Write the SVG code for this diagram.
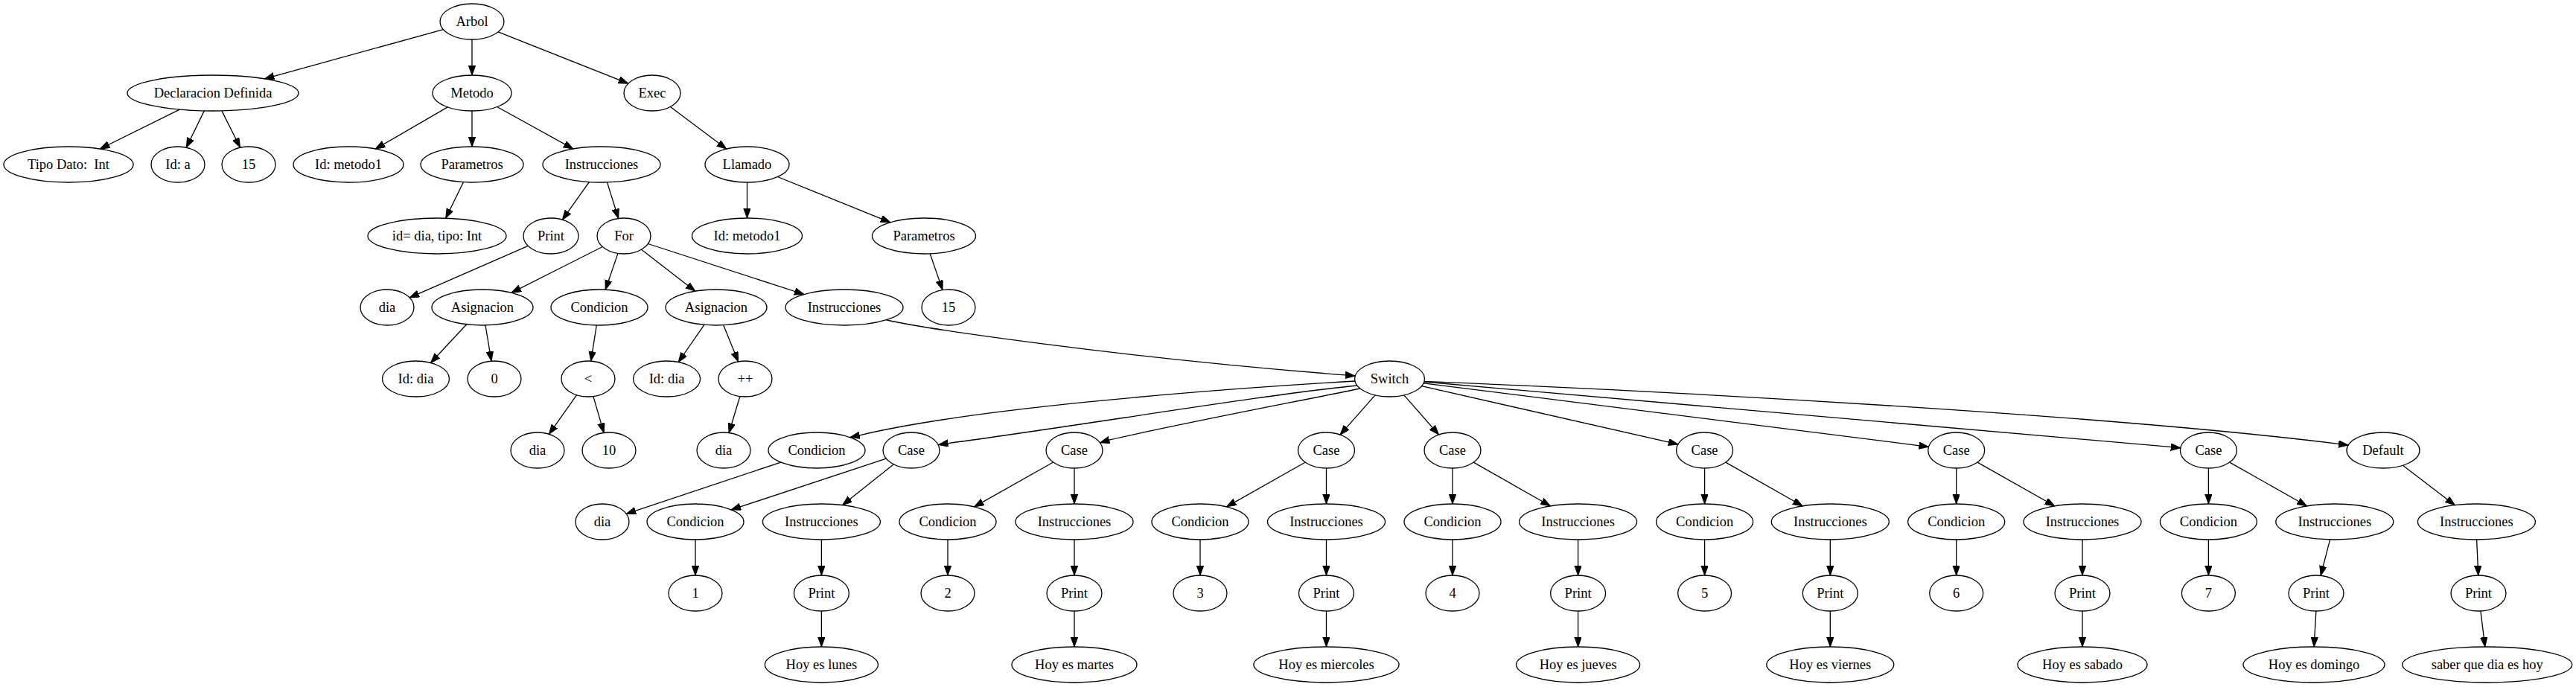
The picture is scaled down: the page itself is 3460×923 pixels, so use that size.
<svg xmlns="http://www.w3.org/2000/svg" width="3460" height="923" viewBox="0 0 3460 923">
<style>
.n ellipse{fill:none;stroke:#000;stroke-width:1.3}
.n text{font-family:"Liberation Serif","Times New Roman",serif;font-size:18.5px;text-anchor:middle;fill:#000}
#edges line,#edges path{stroke:#000;stroke-width:1.3;fill:none;marker-end:url(#arr)}
</style>
<defs>
<marker id="arr" markerUnits="userSpaceOnUse" markerWidth="14" markerHeight="10" viewBox="0 0 14 10" refX="13" refY="4.7" orient="auto"><path d="M0,0 L13,4.7 L0,9.4 z" fill="#000" stroke="#000" stroke-width="1"/></marker>
</defs>
<rect width="3460" height="923" fill="#fff"/>
<g id="edges">
<line x1="595.4" y1="39.6" x2="355.4" y2="105.9"/>
<line x1="634" y1="53" x2="634" y2="101"/>
<line x1="669.1" y1="42.9" x2="843.8" y2="112.2"/>
<line x1="241.3" y1="147.1" x2="134.4" y2="200"/>
<line x1="274.3" y1="148.9" x2="250.2" y2="198.2"/>
<line x1="297.9" y1="148.9" x2="322.6" y2="198.2"/>
<line x1="601.3" y1="143.9" x2="504.2" y2="200.1"/>
<line x1="634" y1="149" x2="634" y2="197"/>
<line x1="667.6" y1="143.5" x2="769.9" y2="200"/>
<line x1="900.4" y1="143.4" x2="975.7" y2="200.1"/>
<line x1="622.4" y1="244.7" x2="598.7" y2="293.2"/>
<line x1="791.4" y1="244.5" x2="755.4" y2="295.2"/>
<line x1="815.5" y1="244.9" x2="830.7" y2="293.5"/>
<line x1="1003.5" y1="245" x2="1003.5" y2="293"/>
<line x1="1044.4" y1="237.5" x2="1195.9" y2="298.8"/>
<line x1="709.3" y1="330.4" x2="550.1" y2="399.9"/>
<line x1="809.3" y1="331.5" x2="686.9" y2="393.3"/>
<line x1="830" y1="340.4" x2="813.2" y2="389.2"/>
<line x1="861.5" y1="335.2" x2="933.8" y2="391.2"/>
<line x1="870.4" y1="327.5" x2="1080" y2="395.5"/>
<line x1="1249.2" y1="340.8" x2="1266" y2="389.6"/>
<line x1="626.7" y1="435.8" x2="578.5" y2="487.5"/>
<line x1="652" y1="437" x2="660" y2="485.1"/>
<line x1="801.3" y1="437" x2="793.7" y2="485.1"/>
<line x1="945.9" y1="436.3" x2="911.2" y2="486.5"/>
<line x1="971.7" y1="436.8" x2="991.6" y2="485.8"/>
<path d="M1191,430 C1240,441 1500,480 1807,503.9 L1820,505"/>
<line x1="774.6" y1="530.7" x2="737.4" y2="583.3"/>
<line x1="796.9" y1="532.6" x2="811.1" y2="581.4"/>
<line x1="993.9" y1="532.5" x2="979.1" y2="581.5"/>
<path d="M1820,512 C1600,525 1300,550 1154.7,584.8 L1142,587.5"/>
<path d="M1823,518 C1700,530 1450,572 1273.4,595.6 L1260.5,597.5"/>
<path d="M1827,522 C1750,538 1600,566 1490,591.1 L1477.5,594.8"/>
<line x1="1847.1" y1="530.9" x2="1800" y2="584.1"/>
<line x1="1885.8" y1="530.9" x2="1932.5" y2="584"/>
<line x1="1909.5" y1="518.7" x2="2253.8" y2="596.9"/>
<line x1="1912.1" y1="514.8" x2="2590.4" y2="600.3"/>
<line x1="1912.8" y1="513" x2="2928.8" y2="601.7"/>
<path d="M1913,512.4 C2300,528 2850,560 3141,596.4 L3154,598"/>
<line x1="1048.8" y1="621.1" x2="841.2" y2="690.3"/>
<line x1="1190.3" y1="616.1" x2="982.1" y2="684.9"/>
<line x1="1200.4" y1="623.8" x2="1131.6" y2="678.6"/>
<line x1="1414.7" y1="621" x2="1308.6" y2="680.9"/>
<line x1="1443" y1="629" x2="1443" y2="677"/>
<line x1="1753.3" y1="621" x2="1647.5" y2="680.9"/>
<line x1="1781.5" y1="629" x2="1781.5" y2="677"/>
<line x1="1951" y1="629" x2="1951" y2="677"/>
<line x1="1979.2" y1="621.1" x2="2082.4" y2="679.8"/>
<line x1="2289.6" y1="629" x2="2289.6" y2="677"/>
<line x1="2317.8" y1="621.1" x2="2421.1" y2="679.8"/>
<line x1="2627.7" y1="629" x2="2627.7" y2="677"/>
<line x1="2656" y1="621.1" x2="2759.7" y2="679.8"/>
<line x1="2966.4" y1="629" x2="2966.4" y2="677"/>
<line x1="2994.8" y1="621.1" x2="3098.4" y2="679.8"/>
<line x1="3227.4" y1="625.2" x2="3297.3" y2="678.7"/>
<line x1="934" y1="725" x2="934" y2="773"/>
<line x1="1103.4" y1="725" x2="1103.4" y2="773"/>
<line x1="1273" y1="725" x2="1273" y2="773"/>
<line x1="1443" y1="725" x2="1443" y2="773"/>
<line x1="1612" y1="725" x2="1612" y2="773"/>
<line x1="1781.5" y1="725" x2="1781.5" y2="773"/>
<line x1="1951" y1="725" x2="1951" y2="773"/>
<line x1="2119.6" y1="725" x2="2119.6" y2="773"/>
<line x1="2289.6" y1="725" x2="2289.6" y2="773"/>
<line x1="2458.3" y1="725" x2="2458.3" y2="773"/>
<line x1="2627.7" y1="725" x2="2627.7" y2="773"/>
<line x1="2797" y1="725" x2="2797" y2="773"/>
<line x1="2966.4" y1="725" x2="2966.4" y2="773"/>
<line x1="3129.6" y1="724.9" x2="3117.1" y2="773.3"/>
<line x1="3326.6" y1="725" x2="3328.8" y2="773"/>
<line x1="1103.4" y1="821" x2="1103.4" y2="869"/>
<line x1="1443" y1="821" x2="1443" y2="869"/>
<line x1="1781.5" y1="821" x2="1781.5" y2="869"/>
<line x1="2119.6" y1="821" x2="2119.6" y2="869"/>
<line x1="2458.3" y1="821" x2="2458.3" y2="869"/>
<line x1="2797" y1="821" x2="2797" y2="869"/>
<line x1="3110.9" y1="821" x2="3108.1" y2="869"/>
<line x1="3331.9" y1="820.9" x2="3337.8" y2="869"/>
</g>
<g id="arbol" class="n"><ellipse cx="634" cy="29" rx="43" ry="24"/><text x="634" y="35">Arbol</text></g>
<g id="decl" class="n"><ellipse cx="286" cy="125" rx="115" ry="24"/><text x="286" y="131">Declaracion Definida</text></g>
<g id="metodo" class="n"><ellipse cx="634" cy="125" rx="53" ry="24"/><text x="634" y="131">Metodo</text></g>
<g id="exec" class="n"><ellipse cx="876" cy="125" rx="38" ry="24"/><text x="876" y="131">Exec</text></g>
<g id="tipo" class="n"><ellipse cx="92" cy="221" rx="87" ry="24"/><text x="92" y="227" xml:space="preserve">Tipo Dato:  Int</text></g>
<g id="ida" class="n"><ellipse cx="239" cy="221" rx="36" ry="24"/><text x="239" y="227">Id: a</text></g>
<g id="n15a" class="n"><ellipse cx="334" cy="221" rx="36" ry="24"/><text x="334" y="227">15</text></g>
<g id="idm1" class="n"><ellipse cx="468" cy="221" rx="74" ry="24"/><text x="468" y="227">Id: metodo1</text></g>
<g id="param1" class="n"><ellipse cx="634" cy="221" rx="69" ry="24"/><text x="634" y="227">Parametros</text></g>
<g id="instr1" class="n"><ellipse cx="808" cy="221" rx="79" ry="24"/><text x="808" y="227">Instrucciones</text></g>
<g id="llamado" class="n"><ellipse cx="1003.5" cy="221" rx="56.5" ry="24"/><text x="1003.5" y="227">Llamado</text></g>
<g id="iddia" class="n"><ellipse cx="587" cy="317" rx="93" ry="24"/><text x="587" y="323">id= dia, tipo: Int</text></g>
<g id="print1" class="n"><ellipse cx="740" cy="317" rx="37" ry="24"/><text x="740" y="323">Print</text></g>
<g id="for" class="n"><ellipse cx="838" cy="317" rx="36" ry="24"/><text x="838" y="323">For</text></g>
<g id="idm2" class="n"><ellipse cx="1003.5" cy="317" rx="74" ry="24"/><text x="1003.5" y="323">Id: metodo1</text></g>
<g id="param2" class="n"><ellipse cx="1241" cy="317" rx="69.5" ry="24"/><text x="1241" y="323">Parametros</text></g>
<g id="dia1" class="n"><ellipse cx="520" cy="413" rx="36" ry="24"/><text x="520" y="419">dia</text></g>
<g id="asig1" class="n"><ellipse cx="648" cy="413" rx="68" ry="24"/><text x="648" y="419">Asignacion</text></g>
<g id="cond1" class="n"><ellipse cx="805" cy="413" rx="65" ry="24"/><text x="805" y="419">Condicion</text></g>
<g id="asig2" class="n"><ellipse cx="962" cy="413" rx="68" ry="24"/><text x="962" y="419">Asignacion</text></g>
<g id="instr2" class="n"><ellipse cx="1134" cy="413" rx="79" ry="24"/><text x="1134" y="419">Instrucciones</text></g>
<g id="n15b" class="n"><ellipse cx="1274" cy="413" rx="36" ry="24"/><text x="1274" y="419">15</text></g>
<g id="iddia1" class="n"><ellipse cx="558.5" cy="509" rx="45" ry="24"/><text x="558.5" y="515">Id: dia</text></g>
<g id="zero" class="n"><ellipse cx="664" cy="509" rx="36" ry="24"/><text x="664" y="515">0</text></g>
<g id="lt" class="n"><ellipse cx="790" cy="509" rx="36" ry="24"/><text x="790" y="515">&lt;</text></g>
<g id="iddia2" class="n"><ellipse cx="895.6" cy="509" rx="45" ry="24"/><text x="895.6" y="515">Id: dia</text></g>
<g id="pp" class="n"><ellipse cx="1001" cy="509" rx="36" ry="24"/><text x="1001" y="515">++</text></g>
<g id="switch" class="n"><ellipse cx="1866.5" cy="509" rx="47" ry="24"/><text x="1866.5" y="515">Switch</text></g>
<g id="dia2" class="n"><ellipse cx="722" cy="605" rx="36" ry="24"/><text x="722" y="611">dia</text></g>
<g id="ten" class="n"><ellipse cx="818" cy="605" rx="36" ry="24"/><text x="818" y="611">10</text></g>
<g id="dia3" class="n"><ellipse cx="972" cy="605" rx="36" ry="24"/><text x="972" y="611">dia</text></g>
<g id="cond2" class="n"><ellipse cx="1097" cy="605" rx="65" ry="24"/><text x="1097" y="611">Condicion</text></g>
<g id="case1" class="n"><ellipse cx="1224" cy="605" rx="38" ry="24"/><text x="1224" y="611">Case</text></g>
<g id="case2" class="n"><ellipse cx="1443" cy="605" rx="38" ry="24"/><text x="1443" y="611">Case</text></g>
<g id="case3" class="n"><ellipse cx="1781.5" cy="605" rx="38" ry="24"/><text x="1781.5" y="611">Case</text></g>
<g id="case4" class="n"><ellipse cx="1951" cy="605" rx="38" ry="24"/><text x="1951" y="611">Case</text></g>
<g id="case5" class="n"><ellipse cx="2289.6" cy="605" rx="38" ry="24"/><text x="2289.6" y="611">Case</text></g>
<g id="case6" class="n"><ellipse cx="2627.7" cy="605" rx="38" ry="24"/><text x="2627.7" y="611">Case</text></g>
<g id="case7" class="n"><ellipse cx="2966.4" cy="605" rx="38" ry="24"/><text x="2966.4" y="611">Case</text></g>
<g id="default" class="n"><ellipse cx="3201" cy="605" rx="49" ry="24"/><text x="3201" y="611">Default</text></g>
<g id="dia4" class="n"><ellipse cx="809" cy="701" rx="36" ry="24"/><text x="809" y="707">dia</text></g>
<g id="c1" class="n"><ellipse cx="934" cy="701" rx="65" ry="24"/><text x="934" y="707">Condicion</text></g>
<g id="i1" class="n"><ellipse cx="1103.4" cy="701" rx="79" ry="24"/><text x="1103.4" y="707">Instrucciones</text></g>
<g id="c2" class="n"><ellipse cx="1273" cy="701" rx="65" ry="24"/><text x="1273" y="707">Condicion</text></g>
<g id="i2" class="n"><ellipse cx="1443" cy="701" rx="79" ry="24"/><text x="1443" y="707">Instrucciones</text></g>
<g id="c3" class="n"><ellipse cx="1612" cy="701" rx="65" ry="24"/><text x="1612" y="707">Condicion</text></g>
<g id="i3" class="n"><ellipse cx="1781.5" cy="701" rx="79" ry="24"/><text x="1781.5" y="707">Instrucciones</text></g>
<g id="c4" class="n"><ellipse cx="1951" cy="701" rx="65" ry="24"/><text x="1951" y="707">Condicion</text></g>
<g id="i4" class="n"><ellipse cx="2119.6" cy="701" rx="79" ry="24"/><text x="2119.6" y="707">Instrucciones</text></g>
<g id="c5" class="n"><ellipse cx="2289.6" cy="701" rx="65" ry="24"/><text x="2289.6" y="707">Condicion</text></g>
<g id="i5" class="n"><ellipse cx="2458.3" cy="701" rx="79" ry="24"/><text x="2458.3" y="707">Instrucciones</text></g>
<g id="c6" class="n"><ellipse cx="2627.7" cy="701" rx="65" ry="24"/><text x="2627.7" y="707">Condicion</text></g>
<g id="i6" class="n"><ellipse cx="2797" cy="701" rx="79" ry="24"/><text x="2797" y="707">Instrucciones</text></g>
<g id="c7" class="n"><ellipse cx="2966.4" cy="701" rx="65" ry="24"/><text x="2966.4" y="707">Condicion</text></g>
<g id="i7" class="n"><ellipse cx="3135.8" cy="701" rx="79" ry="24"/><text x="3135.8" y="707">Instrucciones</text></g>
<g id="i8" class="n"><ellipse cx="3326.4" cy="701" rx="79" ry="24"/><text x="3326.4" y="707">Instrucciones</text></g>
<g id="v1" class="n"><ellipse cx="934" cy="797" rx="36" ry="24"/><text x="934" y="803">1</text></g>
<g id="p1" class="n"><ellipse cx="1103.4" cy="797" rx="37" ry="24"/><text x="1103.4" y="803">Print</text></g>
<g id="v2" class="n"><ellipse cx="1273" cy="797" rx="36" ry="24"/><text x="1273" y="803">2</text></g>
<g id="p2" class="n"><ellipse cx="1443" cy="797" rx="37" ry="24"/><text x="1443" y="803">Print</text></g>
<g id="v3" class="n"><ellipse cx="1612" cy="797" rx="36" ry="24"/><text x="1612" y="803">3</text></g>
<g id="p3" class="n"><ellipse cx="1781.5" cy="797" rx="37" ry="24"/><text x="1781.5" y="803">Print</text></g>
<g id="v4" class="n"><ellipse cx="1951" cy="797" rx="36" ry="24"/><text x="1951" y="803">4</text></g>
<g id="p4" class="n"><ellipse cx="2119.6" cy="797" rx="37" ry="24"/><text x="2119.6" y="803">Print</text></g>
<g id="v5" class="n"><ellipse cx="2289.6" cy="797" rx="36" ry="24"/><text x="2289.6" y="803">5</text></g>
<g id="p5" class="n"><ellipse cx="2458.3" cy="797" rx="37" ry="24"/><text x="2458.3" y="803">Print</text></g>
<g id="v6" class="n"><ellipse cx="2627.7" cy="797" rx="36" ry="24"/><text x="2627.7" y="803">6</text></g>
<g id="p6" class="n"><ellipse cx="2797" cy="797" rx="37" ry="24"/><text x="2797" y="803">Print</text></g>
<g id="v7" class="n"><ellipse cx="2966.4" cy="797" rx="36" ry="24"/><text x="2966.4" y="803">7</text></g>
<g id="p7" class="n"><ellipse cx="3111" cy="797" rx="37" ry="24"/><text x="3111" y="803">Print</text></g>
<g id="p8" class="n"><ellipse cx="3329" cy="797" rx="37" ry="24"/><text x="3329" y="803">Print</text></g>
<g id="h1" class="n"><ellipse cx="1103.4" cy="893" rx="76" ry="24"/><text x="1103.4" y="899">Hoy es lunes</text></g>
<g id="h2" class="n"><ellipse cx="1443" cy="893" rx="84" ry="24"/><text x="1443" y="899">Hoy es martes</text></g>
<g id="h3" class="n"><ellipse cx="1781.5" cy="893" rx="97.6" ry="24"/><text x="1781.5" y="899">Hoy es miercoles</text></g>
<g id="h4" class="n"><ellipse cx="2119.6" cy="893" rx="83" ry="24"/><text x="2119.6" y="899">Hoy es jueves</text></g>
<g id="h5" class="n"><ellipse cx="2458.3" cy="893" rx="85.5" ry="24"/><text x="2458.3" y="899">Hoy es viernes</text></g>
<g id="h6" class="n"><ellipse cx="2797" cy="893" rx="87" ry="24"/><text x="2797" y="899">Hoy es sabado</text></g>
<g id="h7" class="n"><ellipse cx="3108" cy="893" rx="95" ry="24"/><text x="3108" y="899">Hoy es domingo</text></g>
<g id="h8" class="n"><ellipse cx="3340.7" cy="893" rx="114" ry="24"/><text x="3340.7" y="899">saber que dia es hoy</text></g>
</svg>
